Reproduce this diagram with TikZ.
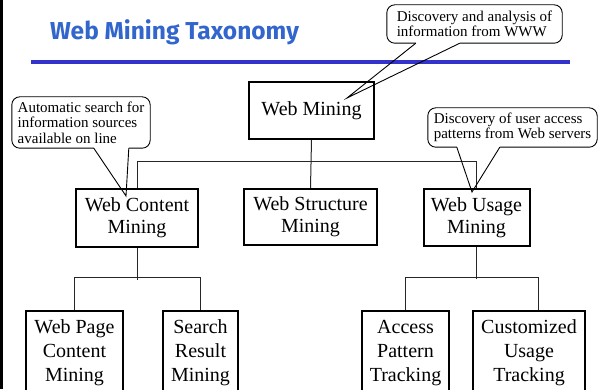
\documentclass[tikz,border=0pt]{standalone}
\usepackage{fontspec}
\setmainfont{Liberation Serif}
\newfontfamily\titlefont{Fira Sans}
\usetikzlibrary{calc}
\definecolor{titleblue}{RGB}{51,102,204}
\definecolor{ruleblue}{RGB}{51,51,204}

\begin{document}
\begin{tikzpicture}[x=1pt,y=1pt,
  box/.style={draw=black, line width=2pt, fill=white, inner sep=0pt, align=center,
              font=\fontsize{20}{22}\selectfont},
  leaf/.style={box, font=\fontsize{20}{24}\selectfont},
  link/.style={line width=1pt, draw=black!85},
  note/.style={inner sep=0pt, align=left, font=\fontsize{15}{15.5}\selectfont},
  noteline/.style={line width=0.9pt, rounded corners=8pt},
  wedge/.style={line width=0.9pt}]
\useasboundingbox (0,0) rectangle (598,389);
\clip (0,0) rectangle (598,389);

% left page edge
\draw[line width=3pt] (1.5,0) -- (1.5,389);

% heading and rule
\node[anchor=base west, inner sep=0pt, text=titleblue,
      font=\titlefont\bfseries\fontsize{24.5}{26}\selectfont] (title) at (50,349) {Web Mining Taxonomy};
\coordinate (ruleL) at (31,327);
\coordinate (ruleR) at (570,327);
\draw[ruleblue, line width=3.5pt] (ruleL) -- (ruleR);

% taxonomy boxes
\node[box, minimum width=125pt, minimum height=57pt] (wm) at (311.5,278.5) {Web Mining};
\node[box, minimum width=122pt, minimum height=58pt] (wc) at (137,171) {Web Content\\Mining};
\node[box, minimum width=133pt, minimum height=56pt] (ws) at (310.5,172) {Web Structure\\Mining};
\node[box, minimum width=106pt, minimum height=57pt] (wu) at (476.5,171.5) {Web Usage\\Mining};

\node[leaf, minimum width=97pt, minimum height=84pt] (wpc) at (74.5,36) {Web Page\\Content\\Mining};
\node[leaf, minimum width=75pt, minimum height=84pt] (src) at (200.5,36) {Search\\Result\\Mining};
\node[leaf, minimum width=87pt, minimum height=84pt] (apt) at (405.5,36) {Access\\Pattern\\Tracking};
\node[leaf, minimum width=112pt, minimum height=84pt] (cut) at (529,36) {Customized\\Usage\\Tracking};

% tree connectors
\draw[link] (wm.south) -- (ws.north);
\draw[link] (wc.north) -- ++(0,26) -| (wu.north);
\draw[link] (wc.south) -- ++(0,-32);
\draw[link] (wpc.north) -- ++(0,32) -| (src.north);
\draw[link] (wu.south) -- ++(0,-32);
\draw[link] (apt.north) -- ++(0,32) -| ([xshift=9pt]cut.north);

% callouts
\node[note, minimum width=175pt, minimum height=38pt] (n1) at (474.5,365)
  {Discovery and analysis of\\information from WWW};
\coordinate (t1) at (347,291);
\draw[noteline] ($(n1.south west)+(73,0)$) -- (n1.south east) -- (n1.north east)
  -- (n1.north west) -- (n1.south west) -- ($(n1.south west)+(29,0)$);
\draw[wedge] ($(n1.south west)+(29,0)$) -- (t1) -- ($(n1.south west)+(73,0)$);

\node[note, minimum width=138pt, minimum height=51pt] (n2) at (81,266.5)
  {Automatic search for\\information sources\\available on line};
\coordinate (t2) at (126,193);
\draw[noteline] ($(n2.south west)+(117,0)$) -- (n2.south east) -- (n2.north east)
  -- (n2.north west) -- (n2.south west) -- ($(n2.south west)+(82,0)$);
\draw[wedge] ($(n2.south west)+(82,0)$) -- (t2) -- ($(n2.south west)+(117,0)$);

\node[note, minimum width=169pt, minimum height=39pt] (n3) at (512.5,261.5)
  {Discovery of user access\\patterns from Web servers};
\coordinate (t3) at (472,197);
\draw[noteline] ($(n3.south west)+(72,0)$) -- (n3.south east) -- (n3.north east)
  -- (n3.north west) -- (n3.south west) -- ($(n3.south west)+(29,0)$);
\draw[wedge] ($(n3.south west)+(29,0)$) -- (t3) -- ($(n3.south west)+(72,0)$);
\end{tikzpicture}
\end{document}
